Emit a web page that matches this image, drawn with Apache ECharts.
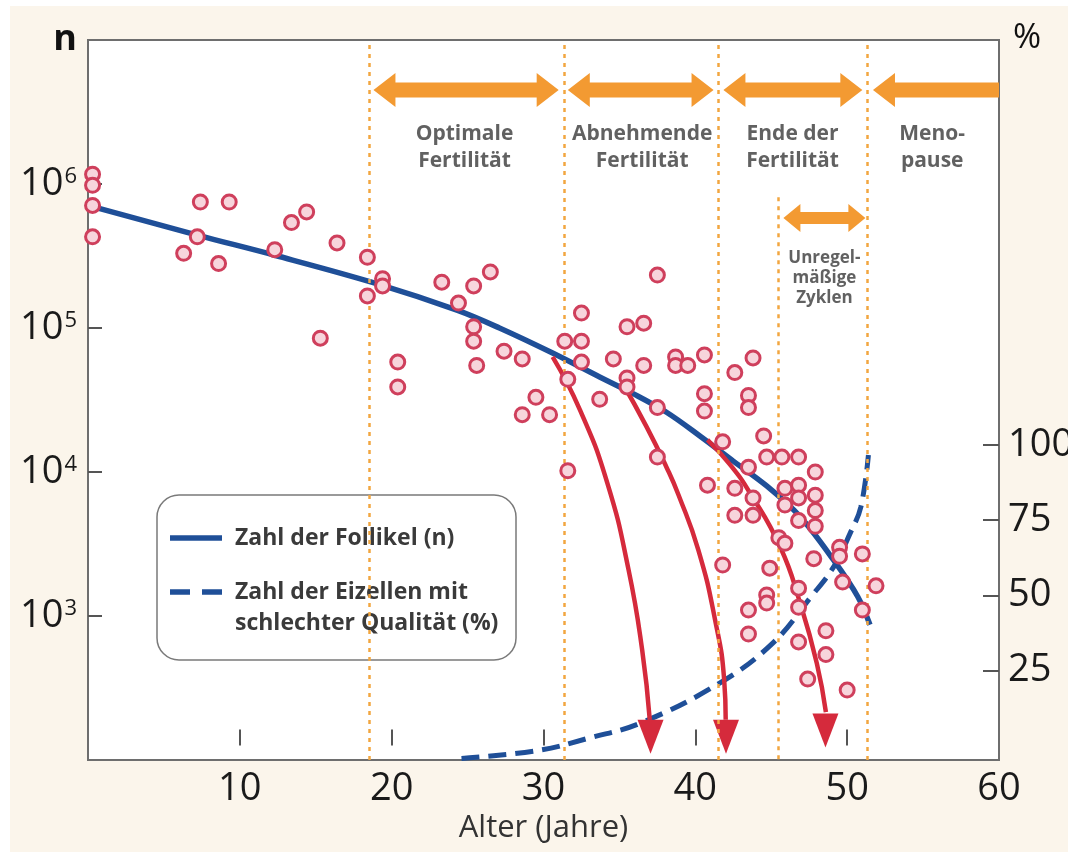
<!DOCTYPE html>
<html><head><meta charset="utf-8">
<script src="https://cdn.jsdelivr.net/npm/echarts@6/dist/echarts.min.js"></script>
<style>html,body{margin:0;padding:0;background:#fff;}#c{width:1068px;height:852px;}</style>
</head><body><div id="c"></div>
<script>
// ---- axes ----
const ageTicks = [10, 20, 30, 40, 50, 60];
const countTicks = [1e3, 1e4, 1e5, 1e6];
const pctTicks = [25, 50, 75, 100];

// ---- model curves ----
const follikelName = 'Zahl der Follikel (n)';
const follikelAge = [0, 7.25, 12.3, 18.9, 24.3, 27.1, 30.6, 33.7, 35.9, 38.1, 40.3, 42.5, 44.7, 46.9, 49.1, 50.7, 51.5];
const follikelCount = [7.1e5, 4.4e5, 3.2e5, 2.05e5, 1.33e5, 1.0e5, 6.7e4, 4.57e4, 3.5e4, 2.6e4, 1.78e4, 1.19e4, 8.0e3, 4.9e3, 2.45e3, 1.36e3, 870];

const eizellenName = 'Zahl der Eizellen mit schlechter Qualität (%)';
const eizellenAge = [24.6, 29.8, 33.0, 36.4, 41.6, 45.1, 47.6, 49.1, 50.2, 50.9, 51.4];
const eizellenPct = [-4.3, -1.5, 2.5, 7.5, 20.8, 34.1, 49.4, 59.4, 70.7, 79.4, 96.7];

// ---- measured follicle counts (scatter) ----
const messAge = [0.3,0.3,0.3,0.3,7.4,9.3,7.2,6.3,8.6,12.3,13.4,14.4,16.4,18.4,19.4,19.4,18.4,15.3,20.4,20.4,
  23.3,25.4,26.5,24.4,25.4,25.4,25.6,27.4,28.6,29.5,28.6,30.4,31.4,32.5,32.5,32.5,31.6,31.6,33.7,34.6,
  35.5,36.6,37.5,35.5,35.5,36.6,37.5,37.5,38.7,38.7,39.5,40.6,40.6,40.6,41.8,40.8,42.6,42.6,43.8,43.5,
  43.5,44.5,44.7,45.7,46.8,43.5,47.9,45.9,46.8,46.8,43.8,47.9,45.9,42.6,43.8,47.9,46.8,47.9,45.5,45.9,
  49.5,49.5,51.0,47.8,41.8,44.9,49.7,51.9,46.8,44.7,44.7,46.8,43.5,51.0,43.5,48.6,46.8,48.6,47.4,50.0];
const messCount = [1.17e6,9.8e5,7.1e5,4.3e5,7.5e5,7.5e5,4.3e5,3.3e5,2.8e5,3.5e5,5.4e5,6.4e5,3.9e5,3.1e5,2.2e5,1.96e5,1.67e5,8.5e4,5.8e4,3.9e4,
  2.08e5,1.96e5,2.45e5,1.49e5,1.02e5,8.1e4,5.5e4,6.9e4,6.1e4,3.3e4,2.5e4,2.5e4,8.1e4,1.27e5,8.1e4,5.8e4,4.4e4,1.02e4,3.2e4,6.1e4,
  1.02e5,1.08e5,2.33e5,4.5e4,3.9e4,5.5e4,2.8e4,1.27e4,6.3e4,5.5e4,5.5e4,6.5e4,3.5e4,2.65e4,1.62e4,8.1e3,4.9e4,7.7e3,6.2e4,3.4e4,
  2.8e4,1.78e4,1.27e4,1.27e4,1.27e4,1.08e4,1.0e4,7.7e3,8.1e3,6.6e3,6.6e3,6.9e3,5.9e3,5.0e3,5.0e3,5.4e3,4.6e3,4.2e3,3.5e3,3.2e3,
  3.0e3,2.6e3,2.7e3,2.5e3,2.26e3,2.15e3,1.72e3,1.62e3,1.56e3,1.40e3,1.23e3,1.15e3,1.10e3,1.10e3,750,790,660,540,365,306];

// ---- red decline arrows ----
const decline1Age = [30.6, 32.4, 34.2, 35.6, 36.5, 37.0];
const decline1Count = [6.3e4, 2.7e4, 8.4e3, 2.1e3, 580, 190];
const decline2Age = [35.2, 36.8, 38.1, 38.9, 40.2, 41.3, 41.9, 42.0];
const decline2Count = [4.15e4, 2.05e4, 1.08e4, 6.9e3, 2.87e3, 940, 360, 190];
const decline3Age = [40.8, 42.3, 43.6, 45.6, 46.9, 48.0, 48.6];
const decline3Count = [1.67e4, 1.12e4, 7.15e3, 3.0e3, 1.23e3, 470, 215];
const declineTipAge = [37.05, 42.02, 48.57];
const declineTipCount = [145, 145, 160];

// ---- phases ----
const phaseFrom = [18.8, 31.6, 41.85, 51.7];
const phaseTo = [31.0, 41.2, 51.0, 60];
const phaseCount = [4.5e6, 4.5e6, 4.5e6, 4.5e6];
const phaseRightHead = [1, 1, 1, 0];
const cycleFrom = [45.8];
const cycleTo = [51.2];
const cycleCount = [5.8e5];
const cycleRightHead = [1];
const phaseLineAge = [18.5, 31.35, 41.5, 51.35];
const cycleLineAge = 45.45;
const cycleLineTop = 8.1e5;
const phaseLabels = ['Optimale\nFertilität', 'Abnehmende\nFertilität', 'Ende der\nFertilität', 'Meno-\npause'];
const phaseLabelAge = [24.8, 36.5, 46.4, 55.6];
const phaseLabelCount = [1.8e6, 1.8e6, 1.8e6, 1.8e6];
const cycleLabels = ['Unregel-\nmäßige\nZyklen'];
const cycleLabelAge = [48.5];
const cycleLabelCount = [2.22e5];

// ---- styles ----
const FONT = '"Open Sans", "Noto Sans", sans-serif';
const BLUE = '#1f4f98';
const RED = '#d52a3c';
const ORANGE = '#f39a32';
const DOT = '#f2a640';
const TXT = '#3a3a3a';

function zip(a, b) { return a.map((v, i) => [v, b[i]]); }

function arrowRenderer(t, h, L) {
  return function (params, api) {
    const a = api.coord([api.value(0), api.value(2)]);
    const b = api.coord([api.value(1), api.value(2)]);
    const rh = api.value(3);
    const y = a[1], x1 = a[0], x2 = b[0];
    const pts = [[x1, y], [x1 + L, y - h / 2], [x1 + L, y - t / 2]];
    if (rh) pts.push([x2 - L, y - t / 2], [x2 - L, y - h / 2], [x2, y], [x2 - L, y + h / 2], [x2 - L, y + t / 2]);
    else pts.push([x2, y - t / 2], [x2, y + t / 2]);
    pts.push([x1 + L, y + t / 2], [x1 + L, y + h / 2]);
    return { type: 'polygon', shape: { points: pts }, style: { fill: ORANGE } };
  };
}

const chart = echarts.init(document.getElementById('c'), null, { renderer: 'canvas' });

const legendFont = { fontFamily: FONT, fontSize: 23, fontWeight: 'bold', fill: TXT, lineHeight: 31 };

chart.setOption({
  animation: false,
  backgroundColor: '#ffffff',
  graphic: [
    { type: 'rect', z: -100, silent: true, shape: { x: 10, y: 6, width: 1058, height: 846 }, style: { fill: '#fbf5eb' } },
    { type: 'group', z: 100, silent: true, children: [
      { type: 'rect', shape: { x: 157, y: 495, width: 359, height: 165, r: 22 }, style: { fill: '#ffffff', stroke: '#7a7a7a', lineWidth: 1.5 } },
      { type: 'line', shape: { x1: 170, y1: 538, x2: 222, y2: 538 }, style: { stroke: BLUE, lineWidth: 5.5 } },
      { type: 'line', shape: { x1: 170, y1: 592, x2: 222, y2: 592 }, style: { stroke: BLUE, lineWidth: 5.5, lineDash: [20, 12] } },
      { type: 'text', x: 235, y: 538, style: Object.assign({ text: follikelName, verticalAlign: 'middle' }, legendFont) },
      { type: 'text', x: 235, y: 576.5, style: Object.assign({ text: 'Zahl der Eizellen mit\nschlechter Qualität (%)', verticalAlign: 'top' }, legendFont) }
    ] }
  ],
  grid: { left: 88, top: 40, right: 69, bottom: 92, show: true, backgroundColor: '#ffffff', borderColor: '#6e6e6e', borderWidth: 2, outerBoundsMode: 'none', containLabel: false },
  xAxis: {
    type: 'value', min: 0, max: 60, interval: 10,
    name: 'Alter (Jahre)', nameLocation: 'middle', nameGap: 37,
    nameTextStyle: { fontFamily: FONT, fontSize: 31, color: '#333', fontWeight: 500 },
    axisLine: { show: false }, splitLine: { show: false },
    axisTick: { inside: true, length: 16, lineStyle: { color: '#555', width: 2 }, customValues: ageTicks.slice(0, 5) },
    axisLabel: { margin: 10, fontFamily: FONT, fontSize: 38, color: '#1a1a1a', customValues: ageTicks, formatter: v => v === 0 ? '' : String(v) }
  },
  yAxis: [{
    type: 'log', logBase: 10, min: 100, max: 1e7,
    name: 'n', nameLocation: 'end', nameGap: 0,
    nameTextStyle: { fontFamily: FONT, fontSize: 36, fontWeight: 'bold', color: '#111', align: 'right', verticalAlign: 'middle', padding: [0, 11, 0, 0] },
    axisLine: { show: false }, splitLine: { show: false }, minorTick: { show: false },
    axisTick: { inside: true, length: 14, lineStyle: { color: '#555', width: 2 }, customValues: countTicks },
    axisLabel: {
      margin: 11, fontFamily: FONT, color: '#1a1a1a', customValues: countTicks,
      formatter: function (v) { const e = Math.round(Math.log10(v)); return '{b|10}{s|' + e + '}'; },
      rich: { b: { fontFamily: FONT, fontSize: 38, lineHeight: 40, color: '#1a1a1a' }, s: { fontFamily: FONT, fontSize: 22, lineHeight: 22, verticalAlign: 'top', color: '#1a1a1a', padding: [2, 0, 0, 1] } }
    }
  }, {
    type: 'value', min: -4.8, max: 234.8, position: 'right',
    name: '%', nameLocation: 'end', nameGap: 2,
    nameTextStyle: { fontFamily: FONT, fontSize: 34, color: '#111', align: 'left', verticalAlign: 'middle', padding: [0, 0, 0, 14] },
    axisLine: { show: false }, splitLine: { show: false },
    axisTick: { inside: true, length: 16, lineStyle: { color: '#555', width: 2 }, customValues: pctTicks },
    axisLabel: { margin: 9, fontFamily: FONT, fontSize: 38, color: '#1a1a1a', customValues: pctTicks }
  }],
  series: [
    {
      type: 'custom', name: 'phases', z: 2, renderItem: arrowRenderer(15, 34, 22), encode: { x: [0, 1], y: 2 },
      data: phaseFrom.map((f, i) => [f, phaseTo[i], phaseCount[i], phaseRightHead[i]]),
      markLine: {
        silent: true, symbol: 'none', label: { show: false },
        lineStyle: { color: DOT, width: 2.5, type: [4, 5] },
        data: phaseLineAge.map(v => ({ xAxis: v })).concat([[{ coord: [cycleLineAge, cycleLineTop] }, { coord: [cycleLineAge, 100] }]])
      }
    },
    {
      type: 'custom', name: 'cycles', z: 2, renderItem: arrowRenderer(12, 28, 17), encode: { x: [0, 1], y: 2 },
      data: cycleFrom.map((f, i) => [f, cycleTo[i], cycleCount[i], cycleRightHead[i]])
    },
    {
      type: 'line', name: eizellenName, yAxisIndex: 1, z: 3, smooth: 0.4, symbol: 'none',
      lineStyle: { color: BLUE, width: 5, type: [18, 9] }, itemStyle: { color: BLUE },
      data: zip(eizellenAge, eizellenPct)
    },
    {
      type: 'line', name: follikelName, z: 3, smooth: 0.35, symbol: 'none',
      lineStyle: { color: BLUE, width: 5.5 }, itemStyle: { color: BLUE },
      data: zip(follikelAge, follikelCount)
    },
    { type: 'line', name: 'r1', z: 4, smooth: 0.5, symbol: 'none', lineStyle: { color: RED, width: 4.5 }, data: zip(decline1Age, decline1Count) },
    { type: 'line', name: 'r2', z: 4, smooth: 0.5, symbol: 'none', lineStyle: { color: RED, width: 4.5 }, data: zip(decline2Age, decline2Count) },
    { type: 'line', name: 'r3', z: 4, smooth: 0.5, symbol: 'none', lineStyle: { color: RED, width: 4.5 }, data: zip(decline3Age, decline3Count) },
    {
      type: 'scatter', name: 'tips', z: 4, symbol: 'triangle', symbolRotate: 180, symbolSize: [26, 34],
      itemStyle: { color: RED, opacity: 1 }, data: zip(declineTipAge, declineTipCount)
    },
    {
      type: 'scatter', name: 'mess', z: 5, symbol: 'circle', symbolSize: 14,
      itemStyle: { color: '#f7d5dc', borderColor: '#cf3f5c', borderWidth: 3, opacity: 1 },
      data: zip(messAge, messCount)
    },
    {
      type: 'scatter', name: 'phaseText', z: 6, symbolSize: 0, silent: true,
      label: { show: true, position: 'inside', formatter: '{b}', fontFamily: FONT, fontSize: 21, fontWeight: 'bold', lineHeight: 27, color: TXT },
      data: phaseLabels.map((t, i) => ({ name: t, value: [phaseLabelAge[i], phaseLabelCount[i]] }))
    },
    {
      type: 'scatter', name: 'cycleText', z: 6, symbolSize: 0, silent: true,
      label: { show: true, position: 'inside', formatter: '{b}', fontFamily: FONT, fontSize: 17, fontWeight: 'bold', lineHeight: 20, color: TXT },
      data: cycleLabels.map((t, i) => ({ name: t, value: [cycleLabelAge[i], cycleLabelCount[i]] }))
    }
  ]
});
</script></body></html>
